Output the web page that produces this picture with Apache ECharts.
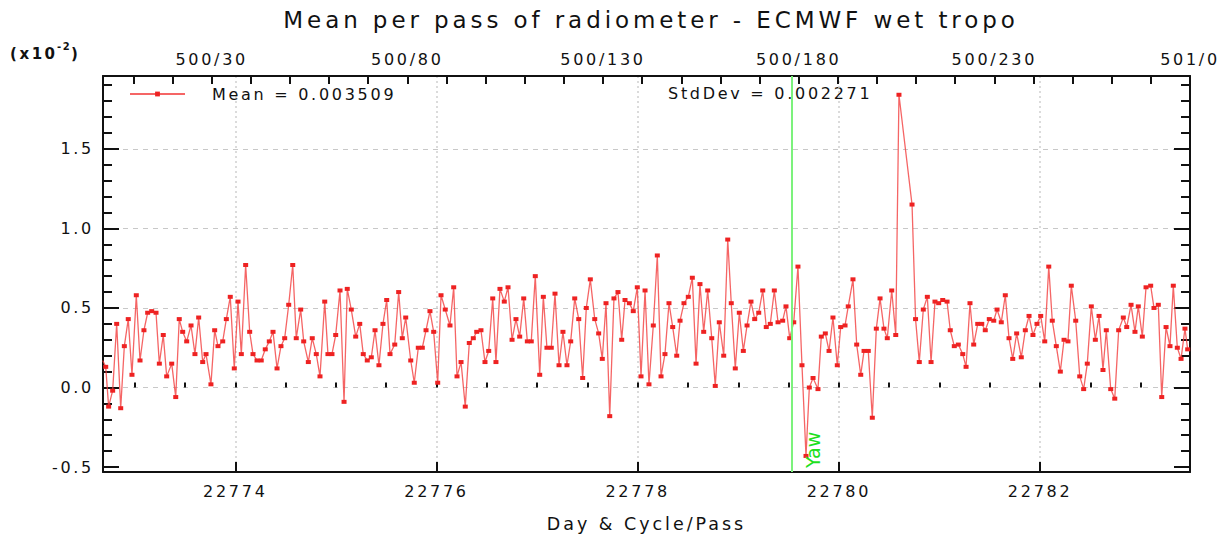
<!DOCTYPE html>
<html><head><meta charset="utf-8">
<script src="https://cdn.jsdelivr.net/npm/echarts@6/dist/echarts.min.js"></script>
<style>
html,body{margin:0;padding:0;background:#fff;}
#main{width:1230px;height:538px;}
#main svg text{letter-spacing:0.17em;}
#main svg text[fill="#1ee01e"]{letter-spacing:0;}
</style></head><body><div id="main"></div>
<script>
// ---- data ----
const days = [
22772.682,22772.712,22772.741,22772.781,22772.821,22772.861,22772.897,22772.936,22772.973,22773.016,22773.053,22773.092,22773.129,22773.169,22773.212,22773.245,22773.284,22773.318,22773.368,22773.408,22773.443,22773.477,22773.517,22773.560,22773.599,22773.636,22773.676,
22773.709,22773.758,22773.795,22773.828,22773.875,22773.911,22773.950,22773.990,22774.027,22774.060,22774.103,22774.143,22774.176,22774.216,22774.258,22774.298,22774.338,22774.375,22774.415,22774.454,22774.491,22774.531,22774.571,22774.606,22774.650,22774.680,
22774.726,22774.765,22774.805,22774.842,22774.889,22774.921,22774.961,22774.998,22775.041,22775.081,22775.113,22775.153,22775.197,22775.237,22775.272,22775.312,22775.352,22775.389,22775.428,22775.468,22775.505,22775.538,22775.585,22775.624,22775.660,22775.694,
22775.744,22775.779,22775.819,22775.859,22775.896,22775.935,22775.972,22776.012,22776.045,22776.087,22776.134,22776.171,22776.204,22776.244,22776.286,22776.326,22776.366,22776.400,22776.442,22776.482,22776.519,22776.559,22776.591,22776.631,22776.674,22776.711,
22776.751,22776.790,22776.827,22776.867,22776.903,22776.942,22776.982,22777.026,22777.062,22777.098,22777.141,22777.178,22777.218,22777.257,22777.297,22777.334,22777.374,22777.414,22777.453,22777.489,22777.529,22777.573,22777.612,22777.648,22777.685,22777.722,
22777.764,22777.804,22777.841,22777.874,22777.917,22777.956,22777.996,22778.033,22778.073,22778.112,22778.155,22778.195,22778.232,22778.271,22778.311,22778.348,22778.388,22778.421,22778.460,22778.503,22778.543,22778.580,22778.619,22778.656,22778.696,22778.736,
22778.771,22778.811,22778.855,22778.895,22778.930,22778.970,22779.010,22779.050,22779.087,22779.126,22779.163,22779.203,22779.243,22779.278,22779.318,22779.358,22779.395,22779.441,22779.474,22779.511,22779.551,22779.593,22779.633,22779.673,22779.706,22779.743,
22779.792,22779.825,22779.865,22779.902,22779.941,22779.984,22780.018,22780.061,22780.093,22780.140,22780.177,22780.217,22780.250,22780.292,22780.332,22780.372,22780.409,22780.448,22780.481,22780.525,22780.565,22780.597,22780.727,22780.762,
22780.799,22780.839,22780.879,22780.916,22780.955,22780.992,22781.032,22781.075,22781.107,22781.147,22781.187,22781.231,22781.264,22781.303,22781.340,22781.380,22781.420,22781.455,22781.495,22781.539,22781.572,22781.614,22781.654,22781.691,22781.728,22781.767,
22781.813,22781.853,22781.890,22781.929,22781.969,22782.006,22782.046,22782.086,22782.121,22782.161,22782.201,22782.238,22782.277,22782.310,22782.354,22782.394,22782.433,22782.469,22782.509,22782.549,22782.586,22782.625,22782.658,22782.702,22782.742,22782.781,
22782.827,22782.861,22782.904,22782.943,22782.976,22783.016,22783.053,22783.099,22783.132,22783.175,22783.209,22783.252,22783.291,22783.324,22783.364,22783.401,22783.440,22783.467
];
const values = [
0.17,0.13,-0.12,-0.02,0.40,-0.13,0.26,0.43,0.08,0.58,0.17,0.36,0.47,0.48,0.47,0.15,0.33,0.07,0.15,-0.06,0.43,0.35,0.29,0.39,0.21,0.44,0.16,
0.21,0.02,0.36,0.26,0.29,0.43,0.57,0.12,0.54,0.21,0.77,0.35,0.21,0.17,0.17,0.24,0.29,0.35,0.12,0.26,0.31,0.52,0.77,0.31,0.49,0.29,
0.16,0.31,0.21,0.07,0.54,0.21,0.21,0.33,0.61,-0.09,0.62,0.49,0.32,0.40,0.21,0.17,0.19,0.36,0.14,0.40,0.55,0.21,0.27,0.60,0.31,0.44,
0.17,0.03,0.25,0.25,0.36,0.48,0.35,0.03,0.58,0.49,0.39,0.63,0.07,0.16,-0.12,0.28,0.31,0.35,0.36,0.16,0.23,0.56,0.16,0.62,0.54,0.63,
0.30,0.43,0.32,0.56,0.29,0.29,0.70,0.08,0.57,0.25,0.25,0.59,0.14,0.35,0.14,0.29,0.56,0.43,0.06,0.50,0.68,0.43,0.34,0.18,0.53,-0.18,
0.56,0.60,0.30,0.55,0.53,0.48,0.63,0.07,0.61,0.02,0.39,0.83,0.07,0.21,0.53,0.38,0.20,0.42,0.53,0.57,0.69,0.15,0.65,0.35,0.61,0.31,
0.01,0.41,0.20,0.93,0.53,0.12,0.47,0.23,0.39,0.54,0.43,0.47,0.61,0.38,0.40,0.61,0.41,0.42,0.51,0.31,0.41,0.76,0.14,-0.43,0.00,0.06,
-0.01,0.32,0.34,0.23,0.44,0.14,0.38,0.39,0.51,0.68,0.27,0.08,0.23,0.23,-0.19,0.37,0.56,0.37,0.31,0.61,0.33,1.84,1.15,0.43,
0.16,0.49,0.57,0.16,0.54,0.53,0.55,0.54,0.36,0.26,0.27,0.21,0.13,0.53,0.27,0.40,0.40,0.36,0.43,0.42,0.49,0.41,0.58,0.31,0.18,0.34,
0.19,0.36,0.45,0.33,0.40,0.45,0.29,0.76,0.42,0.26,0.10,0.30,0.29,0.64,0.42,0.07,-0.01,0.15,0.51,0.30,0.45,0.11,0.36,-0.01,-0.07,0.36,
0.44,0.38,0.52,0.35,0.51,0.32,0.63,0.64,0.50,0.52,-0.06,0.38,0.26,0.64,0.25,0.18,0.37,0.24
];
const dayLabels = [22774, 22776, 22778, 22780, 22782];
const passLabelValues = [30, 80, 130, 180, 230, 280];
const passLabels = ['500/30', '500/80', '500/130', '500/180', '500/230', '501/0'];
const yLabels = [-0.5, 0, 0.5, 1, 1.5];
const yGridValues = [0, 0.5, 1, 1.5];
const titleText = 'Mean per pass of radiometer - ECMWF wet tropo';
const meanText = 'Mean = 0.003509';
const stdText = 'StdDev = 0.002271';
const yawDay = 22779.535;

// ---- tick helpers ----
const dayMinorTicks = []; for (let d = 22773; d <= 22783.01; d += 0.5) dayMinorTicks.push(+d.toFixed(1));
const passTicks = []; for (let p = 10; p <= 280; p += 10) passTicks.push(p);
const yMinorTicks = []; for (let v = -5; v <= 19; v++) yMinorTicks.push(+(v / 10).toFixed(1));

const FONT = 'DejaVu Sans';
const X_MIN = 22772.685, X_MAX = 22783.49;
const Y_MIN = -0.531, Y_MAX = 1.958;
const AXC = '#111';
const chart = echarts.init(document.getElementById('main'), null, {renderer: 'svg'});

function yAx(pos, ticks, len, opts) {
  return Object.assign({
    type: 'value', position: pos, min: Y_MIN, max: Y_MAX,
    axisLine: {show: false},
    axisTick: {show: true, inside: true, length: len, customValues: ticks, lineStyle: {color: AXC, width: 2}},
    axisLabel: {show: false},
    splitLine: {show: false}
  }, opts || {});
}

chart.setOption({
  animation: false,
  backgroundColor: '#fff',
  title: {
    text: titleText, left: 646, top: 3, textAlign: 'center',
    textStyle: {fontFamily: FONT, fontSize: 23, fontWeight: 'normal', color: '#111'}
  },
  legend: {
    data: [meanText], left: 124, top: 81, itemWidth: 55, itemHeight: 6,
    textStyle: {fontFamily: FONT, fontSize: 16, color: '#111', padding: [0, 0, 0, 22]},
    selectedMode: false
  },
  grid: {left: 103, right: 40, top: 76, bottom: 65},
  xAxis: [
    {
      type: 'value', position: 'bottom', min: X_MIN, max: X_MAX,
      axisLine: {show: true, onZero: false, lineStyle: {color: AXC, width: 2}},
      axisTick: {show: true, inside: true, length: 10, customValues: dayLabels, lineStyle: {color: AXC, width: 2}},
      axisLabel: {customValues: dayLabels, margin: 11, fontFamily: FONT, fontSize: 16, color: '#111', formatter: v => String(v)},
      splitLine: {show: true, lineStyle: {color: '#cfcfcf', type: [2, 3], width: 1.5}},
      name: 'Day & Cycle/Pass', nameLocation: 'middle', nameGap: 43,
      nameTextStyle: {fontFamily: FONT, fontSize: 17.5, color: '#111'}
    },
    {
      type: 'value', position: 'bottom', min: X_MIN, max: X_MAX,
      axisLine: {show: false},
      axisTick: {show: true, inside: true, length: 5, customValues: dayMinorTicks, lineStyle: {color: AXC, width: 2}},
      axisLabel: {show: false}, splitLine: {show: false}
    },
    {
      type: 'value', position: 'top', min: 2.23, max: 280,
      axisLine: {show: true, onZero: false, lineStyle: {color: AXC, width: 2}},
      axisTick: {show: true, inside: true, length: 8, customValues: passTicks, lineStyle: {color: AXC, width: 2}},
      axisLabel: {customValues: passLabelValues, margin: 9, fontFamily: FONT, fontSize: 16, color: '#111',
        formatter: v => passLabels[passLabelValues.indexOf(v)]},
      splitLine: {show: false}
    }
  ],
  yAxis: [
    yAx('left', yLabels, 16, {
      axisLine: {show: true, onZero: false, lineStyle: {color: AXC, width: 2}},
      axisLabel: {show: true, customValues: yLabels, margin: 9, fontFamily: FONT, fontSize: 16, color: '#111', formatter: v => v.toFixed(1)}
    }),
    yAx('left', yMinorTicks, 9),
    yAx('right', yLabels, 16, {axisLine: {show: true, onZero: false, lineStyle: {color: AXC, width: 2}}}),
    yAx('right', yMinorTicks, 9),
    yAx('left', yGridValues, 0, {
      axisTick: {show: false, customValues: yGridValues},
      splitLine: {show: true, lineStyle: {color: '#c8c8c8', type: [5, 5], width: 1.2}}
    })
  ],
  graphic: [
    {type: 'text', left: 10, top: 46, style: {text: '(x10', fontFamily: FONT, fontSize: 15, fontWeight: 'bold', fill: '#111'}},
    {type: 'text', left: 57, top: 41, style: {text: '-2', fontFamily: FONT, fontSize: 10, fontWeight: 'bold', fill: '#111'}},
    {type: 'text', left: 71, top: 46, style: {text: ')', fontFamily: FONT, fontSize: 15, fontWeight: 'bold', fill: '#111'}},
    {type: 'text', left: 668, top: 85, style: {text: stdText, fontFamily: FONT, fontSize: 16, fill: '#111'}}
  ],
  series: [{
    name: meanText, type: 'line', xAxisIndex: 0, yAxisIndex: 0,
    data: days.map((d, i) => [d, values[i]]),
    symbol: 'rect', symbolSize: [5, 4], showAllSymbol: true,
    itemStyle: {color: '#ee2222'},
    lineStyle: {color: 'rgba(242,62,62,0.8)', width: 1.3},
    markLine: {
      silent: true, symbol: ['none', 'none'],
      lineStyle: {color: '#7cf27c', width: 2, type: 'solid'},
      label: {show: true, formatter: 'Yaw', position: 'insideStartBottom', distance: [4, 12], color: '#1ee01e', fontFamily: FONT, fontSize: 19},
      data: [{xAxis: yawDay}]
    }
  }]
});
</script></body></html>
